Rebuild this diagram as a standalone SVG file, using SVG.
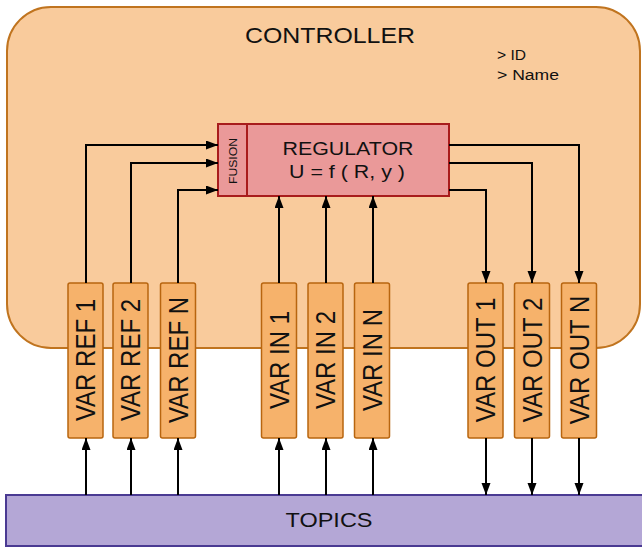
<svg xmlns="http://www.w3.org/2000/svg" width="642" height="547" viewBox="0 0 642 547">
<defs>
<marker id="ah" markerUnits="userSpaceOnUse" markerWidth="13" markerHeight="10" refX="12" refY="4.5" orient="auto">
<path d="M0,0 L12,4.5 L0,9 z" fill="#000"/>
</marker>
<style>
text{font-family:"Liberation Sans",Arial,sans-serif;fill:#111;}
.var{fill:#F6B26B;stroke:#B8650F;stroke-width:1.5;}
.vt{font-size:24px;text-anchor:middle;}
.c{stroke:#000;stroke-width:2;fill:none;marker-end:url(#ah);}
</style>
</defs>
<g id="controller">
<rect x="7" y="7" width="633" height="341" rx="44" fill="#F9CB9C" stroke="#C0741F" stroke-width="2"/>
<text x="330" y="43" font-size="22" text-anchor="middle" textLength="170" lengthAdjust="spacingAndGlyphs">CONTROLLER</text>
<text x="497" y="60" font-size="14" textLength="29" lengthAdjust="spacingAndGlyphs">&gt; ID</text>
<text x="497" y="80" font-size="14" textLength="62" lengthAdjust="spacingAndGlyphs">&gt; Name</text>
</g>
<g id="regulator">
<rect x="218" y="124" width="231" height="72" fill="#EA9999" stroke="#A81C1C" stroke-width="2"/>
<line x1="247" y1="124" x2="247" y2="196" stroke="#A81C1C" stroke-width="2"/>
<text transform="translate(237,161) rotate(-90)" x="0" y="0" font-size="11" text-anchor="middle" textLength="46" lengthAdjust="spacingAndGlyphs" fill="#333">FUSION</text>
<text x="348" y="155" font-size="18" text-anchor="middle" textLength="131" lengthAdjust="spacingAndGlyphs">REGULATOR</text>
<text x="347" y="178" font-size="18" text-anchor="middle" textLength="116" lengthAdjust="spacingAndGlyphs">U = f ( R, y )</text>
</g>
<g id="topics">
<rect x="6" y="495" width="645" height="51" fill="#B4A7D6" stroke="#4A3A92" stroke-width="2"/>
<text x="329" y="527" font-size="21" text-anchor="middle" textLength="87" lengthAdjust="spacingAndGlyphs">TOPICS</text>
</g>
<g id="var-ref-1"><rect class="var" x="68" y="283" width="35" height="155" rx="2"/><text class="vt" transform="translate(85.5,360) scale(1.15,1) rotate(-90)" y="8.6">VAR REF 1</text></g>
<g id="var-ref-2"><rect class="var" x="113" y="283" width="35" height="155" rx="2"/><text class="vt" transform="translate(130.5,360) scale(1.15,1) rotate(-90)" y="8.6">VAR REF 2</text></g>
<g id="var-ref-n"><rect class="var" x="160.5" y="283" width="35" height="155" rx="2"/><text class="vt" transform="translate(178,360) scale(1.15,1) rotate(-90)" y="8.6">VAR REF N</text></g>
<g id="var-in-1"><rect class="var" x="261.5" y="283" width="35" height="155" rx="2"/><text class="vt" transform="translate(279,360) scale(1.15,1) rotate(-90)" y="8.6">VAR IN 1</text></g>
<g id="var-in-2"><rect class="var" x="308" y="283" width="35" height="155" rx="2"/><text class="vt" transform="translate(325.5,360) scale(1.15,1) rotate(-90)" y="8.6">VAR IN 2</text></g>
<g id="var-in-n"><rect class="var" x="354.5" y="283" width="35" height="155" rx="2"/><text class="vt" transform="translate(372,360) scale(1.15,1) rotate(-90)" y="8.6">VAR IN N</text></g>
<g id="var-out-1"><rect class="var" x="468" y="283" width="35" height="155" rx="2"/><text class="vt" transform="translate(485.5,360) scale(1.15,1) rotate(-90)" y="8.6">VAR OUT 1</text></g>
<g id="var-out-2"><rect class="var" x="514.5" y="283" width="35" height="155" rx="2"/><text class="vt" transform="translate(532,360) scale(1.15,1) rotate(-90)" y="8.6">VAR OUT 2</text></g>
<g id="var-out-n"><rect class="var" x="561.5" y="283" width="35" height="155" rx="2"/><text class="vt" transform="translate(579,360) scale(1.15,1) rotate(-90)" y="8.6">VAR OUT N</text></g>
<g id="connectors">
<path class="c" d="M86,283 V145 H218"/>
<path class="c" d="M131,283 V163 H218"/>
<path class="c" d="M178,283 V190 H218"/>
<path class="c" d="M279,283 V196"/>
<path class="c" d="M326,283 V196"/>
<path class="c" d="M373,283 V196"/>
<path class="c" d="M449,145 H579 V283"/>
<path class="c" d="M449,163 H532 V283"/>
<path class="c" d="M449,190 H486 V283"/>
<path class="c" d="M86,495 V438"/>
<path class="c" d="M131,495 V438"/>
<path class="c" d="M178,495 V438"/>
<path class="c" d="M279,495 V438"/>
<path class="c" d="M326,495 V438"/>
<path class="c" d="M373,495 V438"/>
<path class="c" d="M486,438 V495"/>
<path class="c" d="M532,438 V495"/>
<path class="c" d="M579,438 V495"/>
</g>
</svg>
